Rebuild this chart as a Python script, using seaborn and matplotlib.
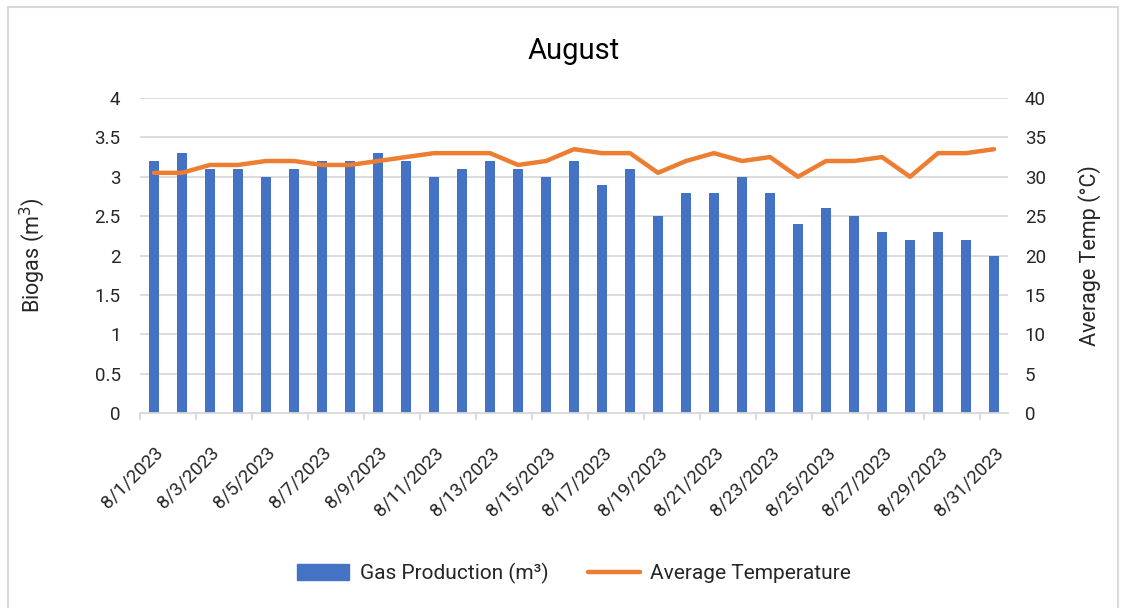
import pandas as pd
import matplotlib.pyplot as plt
import seaborn as sns
from matplotlib.patches import Patch, Rectangle
from matplotlib.lines import Line2D

# ---- data ----
days = [f"8/{d}/2023" for d in range(1, 32)]
gas_m3 = [3.2, 3.3, 3.1, 3.1, 3.0, 3.1, 3.2, 3.2, 3.3, 3.2,
          3.0, 3.1, 3.2, 3.1, 3.0, 3.2, 2.9, 3.1, 2.5, 2.8,
          2.8, 3.0, 2.8, 2.4, 2.6, 2.5, 2.3, 2.2, 2.3, 2.2, 2.0]
avg_temp = [30.5, 30.5, 31.5, 31.5, 32, 32, 31.5, 31.5, 32, 32.5,
            33, 33, 33, 31.5, 32, 33.5, 33, 33, 30.5, 32,
            33, 32, 32.5, 30, 32, 32, 32.5, 30, 33, 33, 33.5]

df = pd.DataFrame({"Date": days, "Gas": gas_m3, "Temp": avg_temp})

BLUE = "#4472C4"
ORANGE = "#ED7D31"
TXT = "#262626"
GRID = "#D9D9D9"

sns.set_theme(style="white")
plt.rcParams['font.family'] = ['Roboto', 'DejaVu Sans']

fig = plt.figure(figsize=(11.26, 6.08), dpi=100)
ax = fig.add_axes([0.1243, 0.3207, 0.7709, 0.5181])

sns.barplot(data=df, x="Date", y="Gas", color=BLUE, width=0.34,
            saturation=1, linewidth=0, ax=ax, zorder=2)
ax.set_ylim(0, 4)
ax.set_yticks([i * 0.5 for i in range(9)])
ax.set_yticklabels(["0", "0.5", "1", "1.5", "2", "2.5", "3", "3.5", "4"])
ax.yaxis.grid(True, color=GRID, linewidth=1.3, zorder=0)
ax.set_axisbelow(True)

ax2 = ax.twinx()
sns.lineplot(data=df, x="Date", y="Temp", color=ORANGE, linewidth=3.2,
             sort=False, ax=ax2, zorder=3)
ax2.set_ylim(0, 40)
ax2.set_yticks(range(0, 41, 5))

# x ticks: every second date, small tick marks between pairs
ax.set_xticks(range(0, len(days), 2))
ax.set_xticklabels(days[::2], rotation=45, ha="right", rotation_mode="anchor",
                   fontsize=13.5, color=TXT)
ax.set_xticks([i - 0.5 for i in range(0, len(days) + 1, 2)], minor=True)
ax.tick_params(axis="x", which="major", length=0, pad=22)
ax.tick_params(axis="x", which="minor", length=5, color=GRID, width=1.3,
               bottom=True)
ax.set_xlim(-0.5, len(days) - 0.5)

ax.tick_params(axis="y", length=0, labelsize=13.5, labelcolor=TXT, pad=14)
ax2.tick_params(axis="y", length=0, labelsize=13.5, labelcolor=TXT, pad=12)

for a in (ax, ax2):
    for s in ("top", "left", "right"):
        a.spines[s].set_visible(False)
ax.spines["bottom"].set_color(GRID)
ax.spines["bottom"].set_linewidth(1.3)
ax2.spines["bottom"].set_visible(False)

ax.set_xlabel("")
ax.set_ylabel("Biogas (m$^3$)", fontsize=15.5, color=TXT, labelpad=34)
ax2.set_ylabel("Average Temp (°C)", fontsize=15.5, color=TXT, labelpad=23)
ax.set_title("August", fontsize=21, color="black", pad=28)

handles = [Patch(facecolor=BLUE, edgecolor=BLUE),
           Line2D([0], [0], color=ORANGE, linewidth=3.2)]
fig.legend(handles, ["Gas Production (m³)", "Average Temperature"],
           loc="center", bbox_to_anchor=(0.51, 0.057), ncol=2, frameon=False,
           fontsize=15, handlelength=2.5, handleheight=0.75, columnspacing=1.9,
           handletextpad=0.5, labelcolor=TXT)

# light chart border
fig.patches.append(Rectangle((0.007, -0.02), 0.986, 1.008, transform=fig.transFigure,
                             fill=False, edgecolor=GRID, linewidth=1.5))

fig.savefig("out.png", dpi=100)
